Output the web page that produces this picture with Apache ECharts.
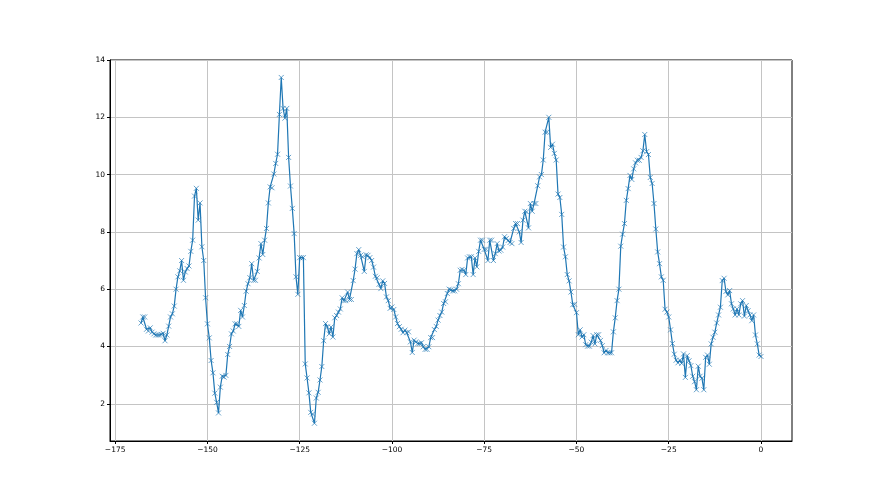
<!DOCTYPE html>
<html>
<head>
<meta charset="utf-8">
<script src="https://cdn.jsdelivr.net/npm/echarts@6/dist/echarts.min.js"></script>
<style>
html,body{margin:0;padding:0;background:#fff;}
#chart{width:880px;height:495px;}
</style>
</head>
<body>
<div id="chart"></div>
<script>
// x positions: first sample and spacing between samples
const xStart = -168;
const xStep = 0.5;
// y values, one per sample
const yValues = [
  4.82, 5.03, 5.03, 4.6, 4.54, 4.65, 4.5, 4.44, 4.4, 4.4,
  4.4, 4.42, 4.46, 4.2, 4.4, 4.71, 5.03, 5.14, 5.41, 6.0,
  6.43, 6.64, 7.0, 6.31, 6.6, 6.72, 6.81, 7.32, 7.71, 9.25,
  9.52, 8.41, 9.01, 7.48, 7.0, 5.7, 4.79, 4.3, 3.51, 3.08,
  2.37, 2.05, 1.68, 2.58, 2.96, 2.93, 2.99, 3.72, 4.0, 4.44,
  4.54, 4.79, 4.79, 4.7, 5.26, 5.03, 5.43, 5.93, 6.19, 6.4,
  6.89, 6.31, 6.31, 6.62, 7.09, 7.59, 7.21, 7.71, 8.12, 9.01,
  9.57, 9.54, 10.02, 10.39, 10.71, 12.1, 13.39, 12.31, 11.97, 12.31,
  10.6, 9.6, 8.82, 7.94, 6.43, 5.82, 7.1, 7.1, 7.1, 3.39,
  2.9, 2.38, 1.7, 1.64, 1.32, 2.2, 2.4, 2.83, 3.3, 4.2,
  4.8, 4.68, 4.44, 4.68, 4.33, 5.0, 5.08, 5.2, 5.31, 5.7,
  5.6, 5.6, 5.9, 5.64, 5.64, 6.3, 6.7, 7.24, 7.38, 7.18,
  7.13, 6.62, 7.2, 7.18, 7.1, 7.0, 6.77, 6.45, 6.4, 6.17,
  6.02, 6.29, 6.2, 5.73, 5.6, 5.33, 5.38, 5.29, 5.03, 4.8,
  4.69, 4.6, 4.48, 4.57, 4.48, 4.51, 4.16, 3.79, 4.22, 4.16,
  4.1, 4.1, 4.13, 3.99, 3.9, 3.9, 3.99, 4.31, 4.31, 4.59,
  4.7, 4.92, 5.08, 5.2, 5.5, 5.56, 5.85, 6.0,
  5.98, 5.94,
  5.94, 6.0, 6.19, 6.66, 6.69, 6.66, 6.51, 7.09, 7.13, 7.13,
  6.51, 7.09, 6.78, 7.32, 7.71, 7.71, 7.39, 7.39, 7.0, 7.71,
  7.71, 7.0, 7.24, 7.59, 7.33, 7.36, 7.47, 7.83, 7.77, 7.7,
  7.63, 7.59, 8.12, 8.29, 8.29, 8.0, 7.63, 8.41, 8.72, 8.7,
  8.14, 8.99, 8.72, 8.99, 8.99, 9.61, 9.92, 10.0, 10.51, 11.48,
  11.48, 12.0, 10.95, 11.06, 10.74, 10.51, 9.32, 9.2, 8.61, 7.47,
  7.13, 6.51, 6.29, 5.9, 5.46, 5.47, 5.18, 4.41, 4.58, 4.33,
  4.41, 4.06, 4.01, 4.01, 4.15, 4.38, 4.09, 4.41, 4.41, 4.21,
  4.03, 3.78, 3.86, 3.78, 3.78, 3.78, 4.51, 5.0, 5.6, 6.0,
  7.5, 7.92, 8.29, 9.1, 9.51, 9.97, 9.83, 10.2, 10.41, 10.5,
  10.5, 10.6, 10.83, 11.4, 10.8, 10.7, 9.9, 9.69, 8.99, 8.1,
  7.3, 6.89, 6.43, 6.31, 5.3, 5.2, 5.03, 4.58, 4.1, 3.73,
  3.52, 3.43, 3.52, 3.41, 3.74, 2.92, 3.68, 3.5, 3.33, 2.96,
  2.77, 2.49, 3.31, 2.96, 2.89, 2.49, 3.62, 3.7, 3.38, 4.09,
  4.32, 4.5, 4.82, 5.1, 5.37, 6.3, 6.38, 5.92, 5.8, 5.95,
  5.49, 5.31, 5.1, 5.31, 5.1, 5.49, 5.6, 5.06, 5.43, 5.25,
  5.1, 4.9, 5.1, 4.4, 4.09, 3.7, 3.65
];
const xTicks = [-175, -150, -125, -100, -75, -50, -25, 0];
const yTicks = [2, 4, 6, 8, 10, 12, 14];

const points = yValues.map((y, i) => [xStart + i * xStep, y]);

// matplotlib-like 5% margins
const xs = points.map(p => p[0]);
const xMinD = Math.min(...xs), xMaxD = Math.max(...xs);
const yMinD = Math.min(...yValues), yMaxD = Math.max(...yValues);
const xPad = (xMaxD - xMinD) * 0.05, yPad = (yMaxD - yMinD) * 0.05;
const round1 = v => Math.round(v * 10) / 10;

const fmt = v => String(v).replace('-', '\u2212');
const labelStyle = { color: '#000', fontSize: 7.5, fontFamily: 'DejaVu Sans' };

const chart = echarts.init(document.getElementById('chart'), null, { renderer: 'canvas' });
chart.setOption({
  animation: false,
  backgroundColor: '#fff',
  grid: { left: 110, right: 88, top: 60, bottom: 54, show: true, borderColor: '#000', borderWidth: 1, backgroundColor: 'transparent' },
  xAxis: {
    type: 'value',
    min: xMinD - xPad,
    max: xMaxD + xPad,
    axisLine: { show: true, onZero: false, lineStyle: { color: '#000', width: 1 } },
    axisTick: { show: true, length: 3, customValues: xTicks, lineStyle: { color: '#000', width: 1 } },
    axisLabel: { ...labelStyle, margin: 5, customValues: xTicks, formatter: fmt },
    splitLine: { show: true, lineStyle: { color: '#c4c4c4', width: 1 } }
  },
  yAxis: {
    type: 'value',
    min: round1(yMinD - yPad),
    max: round1(yMaxD + yPad),
    axisLine: { show: true, onZero: false, lineStyle: { color: '#000', width: 1 } },
    axisTick: { show: true, length: 3, customValues: yTicks, lineStyle: { color: '#000', width: 1 } },
    axisLabel: { ...labelStyle, margin: 5, customValues: yTicks, formatter: fmt },
    splitLine: { show: true, lineStyle: { color: '#c4c4c4', width: 1 } }
  },
  series: [{
    type: 'line',
    data: points,
    showAllSymbol: true,
    symbol: 'path://M0,0L10,10M0,10L10,0',
    symbolSize: 5,
    itemStyle: { color: '#1f77b4', borderColor: '#1f77b4', borderWidth: 0.8, opacity: 0.85 },
    lineStyle: { color: '#1f77b4', width: 1.2 },
    clip: false,
    z: 3
  }]
});
</script>
</body>
</html>
